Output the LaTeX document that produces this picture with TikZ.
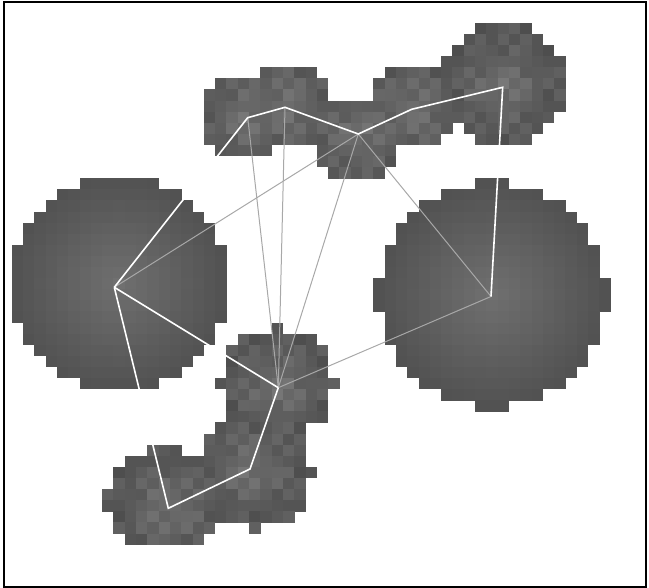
\documentclass[tikz,border=0pt]{standalone}
\begin{document}
\begin{tikzpicture}[x=1pt,y=-1pt]
\tikzset{
  wline/.style={draw=white, line width=1.6pt},
  gline/.style={draw={rgb,255:red,168;green,168;blue,168}, line width=1pt},
  frame/.style={draw=black, line width=2.2pt},
}
\useasboundingbox (0,0) rectangle (649,588);
\newcommand\cellfill[3]{%
  \definecolor{cellc}{RGB}{#3,#3,#3}%
  \fill[cellc] ({0.4+11.3*#1},{0.7+11.1*#2}) rectangle ++(11.6,11.4);}
% big circles
\foreach \cc/\rc/\rr in {10/25/92, 43/26/102} {
  \pgfmathtruncatemacro\rad{floor(sqrt(\rr))}
  \foreach \dy in {-\rad,...,\rad} {
    \pgfmathtruncatemacro\hw{floor(sqrt(\rr-\dy*\dy))}
    \foreach \dx in {-\hw,...,\hw} {
      \pgfmathtruncatemacro\ci{\cc+\dx}
      \pgfmathtruncatemacro\ri{\rc+\dy}
      \pgfmathtruncatemacro\v{82+30*(1-veclen(\dx,\dy)/sqrt(\rr))}
      \cellfill{\ci}{\ri}{\v}
    }}}
% small blobs
\foreach \r/\a/\b in {2/42/46, 3/41/47, 4/40/48, 5/39/49, 6/23/27, 6/34/49,
  7/19/28, 7/33/49, 8/18/28, 8/33/49, 9/18/49, 10/18/48, 11/18/39, 11/41/47,
  12/18/38, 12/42/46, 13/19/23, 13/28/34, 14/28/34, 15/29/33,
  29/24/24, 30/21/27, 31/20/28, 32/20/28, 33/20/28, 34/19/29, 35/20/28,
  36/20/28, 37/20/28, 38/19/26, 39/18/26, 40/13/15, 40/18/26, 41/11/26,
  42/10/27, 43/10/26, 44/9/26, 45/9/26, 46/10/25, 47/10/18, 47/22/22, 48/11/17} {
  \foreach \c in {\a,...,\b} {
    \pgfmathsetmacro\d{min(veclen(\c-21.4,\r-10),veclen(\c-24.7,\r-9.1),
      veclen(\c-31.2,\r-11.5),veclen(\c-35.9,\r-9.3),veclen(\c-44,\r-7.3),
      veclen(\c-24.1,\r-34.4),veclen(\c-14.4,\r-45.2),veclen(\c-21.6,\r-41.7))}
    \pgfmathtruncatemacro\n{mod(3*\c+5*\r+\c*\r,4)}
    \pgfmathtruncatemacro\v{78+26*max(0,1-\d/4.5)+6*\n}
    \cellfill{\c}{\r}{\v}
  }}
% graph vertices
\coordinate (L) at (114.3,287.3);
\coordinate (R) at (491,296.5);
\coordinate (C) at (278.3,387.7);
\coordinate (P2) at (247.7,117.7);
\coordinate (P3) at (285,107.3);
\coordinate (P4) at (358.3,134);
\coordinate (P5) at (411.7,109.3);
\coordinate (P6) at (502.7,87.3);
\coordinate (Q2) at (168.3,508.3);
\coordinate (Q3) at (250,469);
% grey connectors
\draw[gline] (P4) -- (L);
\draw[gline] (P4) -- (R);
\draw[gline] (P4) -- (C);
\draw[gline] (P2) -- (C);
\draw[gline] (P3) -- (C);
\draw[gline] (C) -- (R);
% white connectors
\draw[wline] (L) -- (P2) -- (P3) -- (P4) -- (P5) -- (P6) -- (R);
\draw[wline] (L) -- (Q2) -- (Q3) -- (C);
\draw[wline] (L) -- (C);
% frame
\draw[frame] (4,2) rectangle (646,587);
\end{tikzpicture}
\end{document}
